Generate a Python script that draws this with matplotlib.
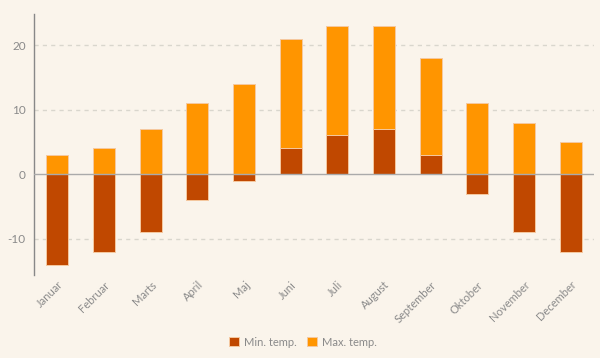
import matplotlib
matplotlib.use("Agg")
import matplotlib.pyplot as plt
import numpy as np

months = ["Januar", "Februar", "Marts", "April", "Maj", "Juni", "Juli",
          "August", "September", "Oktober", "November", "December"]
min_temp = [-14, -12, -9, -4, -1, 4, 6, 7, 3, -3, -9, -12]
max_temp = [3, 4, 7, 11, 14, 21, 23, 23, 18, 11, 8, 5]

bg = "#faf4eb"
c_min = "#c04800"
c_max = "#ff9500"
edge = "#f5c9a0"

plt.rcParams['font.family'] = ['Lato', 'DejaVu Sans']

fig = plt.figure(figsize=(6, 3.58), dpi=100, facecolor=bg)
ax = fig.add_axes([34/600, 1-275/358, 560/600, 261/358], facecolor=bg)

x = np.arange(len(months))
w = 0.47
ax.bar(x, max_temp, width=w, color=c_max, edgecolor=edge, linewidth=0.7, zorder=3, label="Max. temp.")
ax.bar(x, min_temp, width=w, color=c_min, edgecolor=edge, linewidth=0.7, zorder=4, label="Min. temp.")

ax.set_xlim(-0.5, 11.5)
ax.set_ylim(-15.6, 24.8)
ax.set_yticks([-10, 0, 10, 20])
ax.set_yticklabels(["-10", "0", "10", "20"])
for yv in [-10, 10, 20]:
    ax.axhline(yv, color="#d9d6cd", linestyle=(0, (3, 3)), linewidth=1, zorder=1)
ax.axhline(0, color="#aaaaaa", linewidth=1, zorder=5)

ax.set_xticks(x)
ax.set_xticklabels(months, rotation=45, ha="right", rotation_mode="anchor",
                   fontsize=8, color="#8a8a8a")
ax.tick_params(axis="y", length=0, labelsize=8.5, labelcolor="#8a8a8a", pad=6)
ax.tick_params(axis="x", length=0, pad=3)

for s in ["top", "right", "bottom"]:
    ax.spines[s].set_visible(False)
ax.spines["left"].set_color("#888888")
ax.spines["left"].set_linewidth(1)

handles, labels = ax.get_legend_handles_labels()
leg = fig.legend(handles[::-1], labels[::-1], loc="center", bbox_to_anchor=(0.505, 1-342/358),
                 ncol=2, frameon=False, fontsize=8, handlelength=0.9, handleheight=0.9,
                 columnspacing=1.0, handletextpad=0.4)
for t in leg.get_texts():
    t.set_color("#8a8a8a")

fig.savefig("out.png", dpi=100, facecolor=bg)
